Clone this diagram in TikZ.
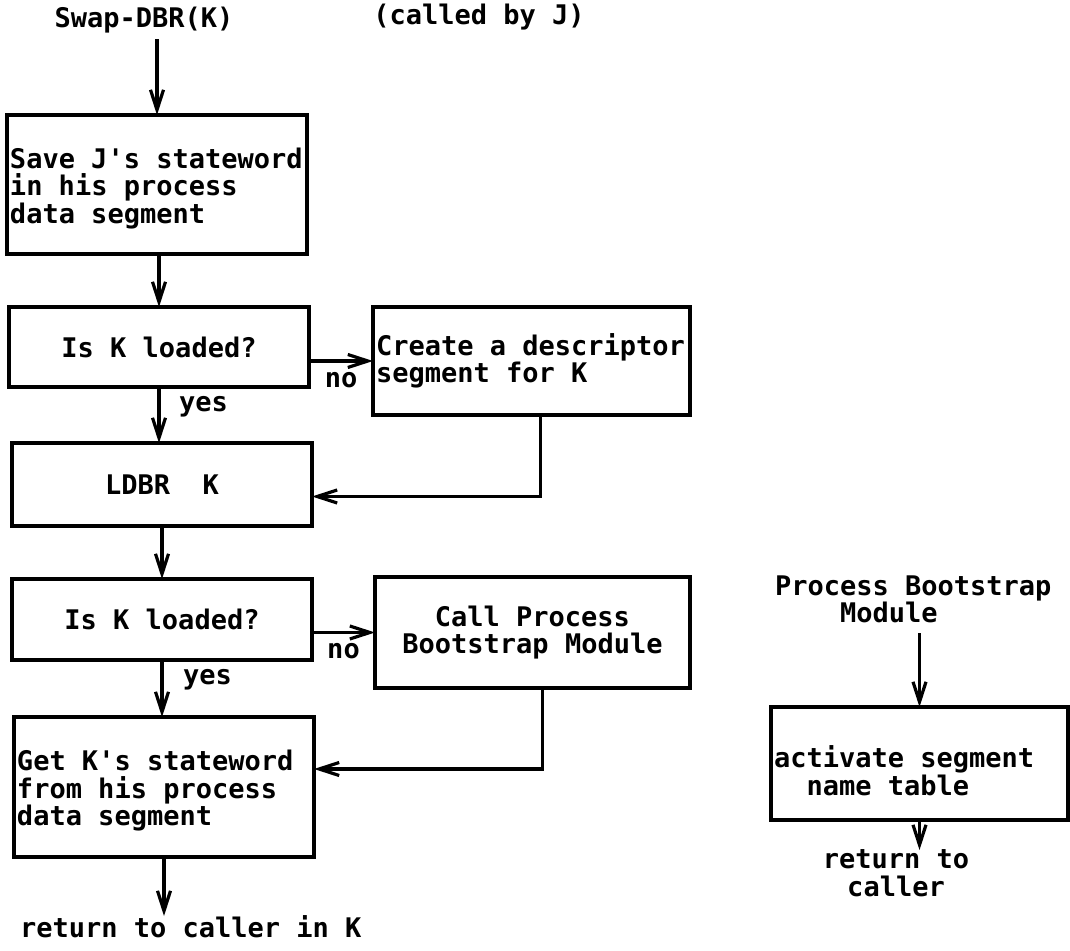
\documentclass[tikz,border=0pt]{standalone}
\usepackage{fontspec}
\setmonofont{DejaVu Sans Mono}
\usepackage{tikz}
\usetikzlibrary{positioning, arrows.meta}

\begin{document}
\begin{tikzpicture}[node distance=26.5pt,
    every node/.style={font=\ttfamily\bfseries\fontsize{13.5}{13.75}\selectfont, inner sep=0pt, outer sep=0pt},
    box/.style={draw, line width=1.6pt, inner xsep=1.5pt, minimum width=150pt, text width=147pt, align=left,
      execute at begin node={\spaceskip=8.127pt\xspaceskip=8.127pt\relax}},
    midbox/.style={box, align=center},
    flow/.style={-{Straight Barb[length=10pt, width=6.5pt]}, line width=1.6pt}]
  \useasboundingbox (0,0) rectangle (535pt,-475.5pt);

  % main routine
  \node (save) [box, minimum height=69.5pt, text depth=26.5pt] at (78.5pt,-92.25pt) {Save J's stateword\\in his process\\data segment};
  \node (swap) [above=41pt of save, xshift=-6.5pt] {Swap-DBR(K)};
  \node (calledby) [right=70pt of swap, yshift=1.5pt] {(called by J)};
  \node (isk1) [midbox, below=26.5pt of save, xshift=1pt, minimum height=40pt] {Is K loaded?};
  \node (descr) [box, right=32pt of isk1.north east, anchor=north west, minimum width=158.5pt, text width=155.5pt, minimum height=54pt] {Create a descriptor\\segment for K};
  \node (ldbr) [midbox, below=28pt of isk1, xshift=1.5pt, minimum height=41.5pt] {LDBR\ \ K};
  \node (isk2) [midbox, below=26.5pt of ldbr, minimum height=40.5pt] {Is K loaded?};
  \node (callpb) [midbox, right=31.5pt of isk2.north east, anchor=north west, yshift=1pt, minimum width=157.5pt, text width=154.5pt, minimum height=55.5pt] {Call Process\\Bootstrap Module};
  \node (getk) [box, below=28.5pt of isk2, xshift=1pt, minimum height=70pt, text depth=26.5pt] {Get K's stateword\\from his process\\data segment};
  \node (ret) [below=29.5pt of getk.south west, anchor=north west, xshift=3pt] {return to caller in K};

  % bootstrap module
  \node (activ) [box, below right=9.5pt and 40.5pt of callpb.south east, minimum width=148.5pt, text width=145.5pt, minimum height=56.5pt, text depth=6.75pt] {activate segment\\\phantom{ac}name table};
  \node (pbmod) [above=42pt of activ.north west, anchor=south west, xshift=2pt, align=left] {Process Bootstrap\\\phantom{Proc}Module};
  \node (ret2) [below=15pt of activ.south, xshift=-11.75pt, align=center] {return to\\caller};

  \draw[flow, shorten <=3.25pt] (save.north |- swap.south) -- (save.north);
  \draw[flow] (isk1.north |- save.south) -- (isk1.north);
  \draw[flow] (isk1.east |- descr.west) -- node[below=5.5pt] {no} (descr.west);
  \draw[flow] (isk1.south) -- node[pos=0.35, right=10pt] {yes} (isk1.south |- ldbr.north);
  \draw[flow] ([xshift=4.5pt]descr.south) |- ([yshift=-6pt]ldbr.east);
  \draw[flow] (ldbr.south) -- (ldbr.south |- isk2.north);
  \draw[flow] (isk2.east |- callpb.west) -- node[below=5.5pt] {no} (callpb.west);
  \draw[flow] (isk2.south) -- node[pos=0.35, right=10.5pt] {yes} (isk2.south |- getk.north);
  \draw[flow] ([xshift=5pt]callpb.south) |- ([yshift=9pt]getk.east);
  \draw[flow] (getk.south) -- (getk.south |- ret.north);
  \draw[flow, shorten <=5pt] (activ.north |- pbmod.south) -- (activ.north);
  \draw[flow] (activ.south) -- (activ.south |- ret2.north);
\end{tikzpicture}
\end{document}
